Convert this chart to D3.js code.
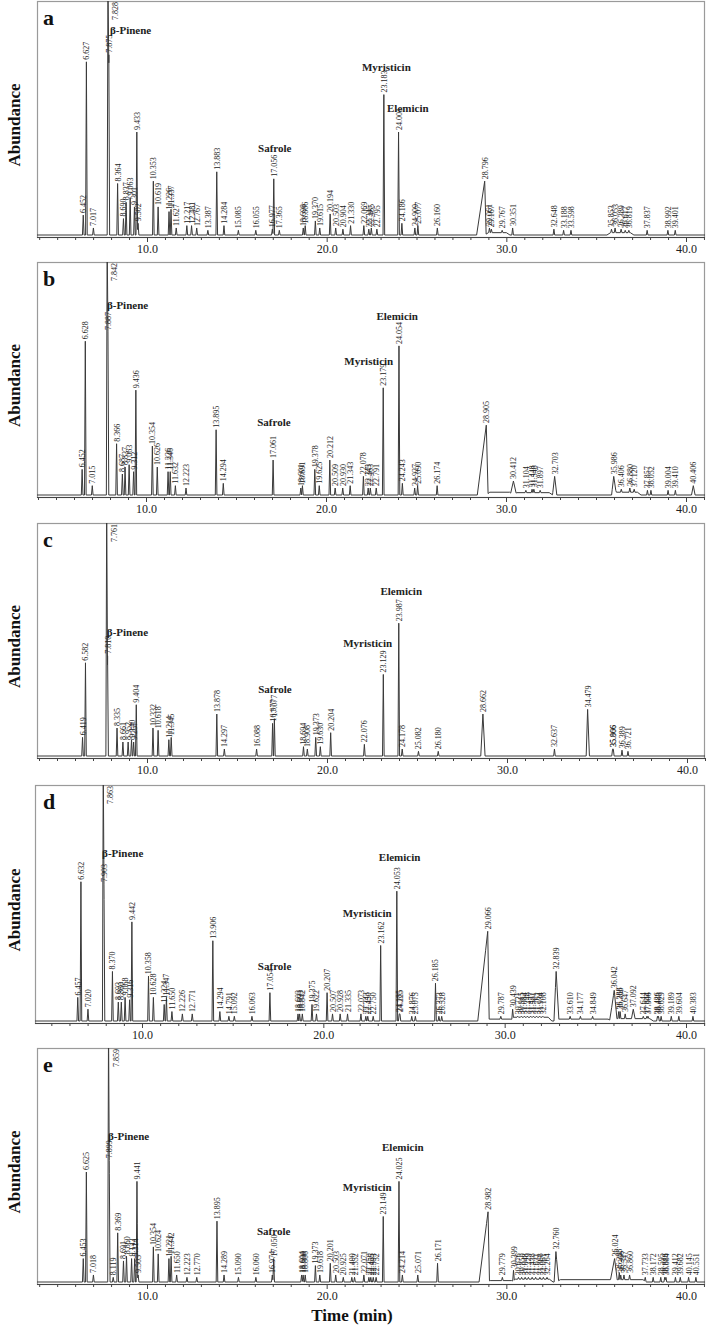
<!DOCTYPE html>
<html><head><meta charset="utf-8">
<script src="https://cdn.jsdelivr.net/npm/d3@7"></script>
<style>body{margin:0;background:#fff}svg{display:block}</style>
</head><body>
<svg id="chart" width="708" height="1326"></svg>
<script>
// ---------- data ----------
const panelKeys = ["a","b","c","d","e"];
const xTickValues = [10, 20, 30, 40];
const xAxisTitle = "Time (min)";
const yAxisTitle = "Abundance";

// peaks: [retention time (min), relative abundance (%), left width, right width]
const peaksA = [[6.452,8.5],[6.627,74],[7.017,3],[7.828,110],[7.875,77],[8.364,22],[8.690,7],[8.837,14],[9.063,16],[9.301,12],[9.433,44],[9.502,5],
 [10.353,23],[10.619,12],[11.226,10],[11.337,11],[11.627,3],[12.217,4],[12.481,4],[12.767,3],[13.387,2],[13.883,27],[14.284,4],[15.085,2],[16.055,2],
 [16.977,2.5],[17.056,24],[17.365,2],[18.698,3],[18.806,4],[19.370,6],[19.615,3],[20.194,9],[20.503,3],[20.904,2.5],[21.330,4],[22.069,4],[22.345,2.5],
 [22.485,3],[22.795,2.5],[23.183,60],[24.001,44],[24.186,5],[24.909,3],[25.077,4],[26.160,3],[28.796,23,0.45,0.08],[29.061,3],[29.167,2.5],[29.767,2],
 [30.351,3],[32.648,2.5],[33.188,2],[33.598,2],[35.853,2.5],[36.053,3],[36.389,2.5],[36.617,2],[36.819,2],[37.837,2],[38.992,2],[39.401,2]];
const peaksB = [[6.452,11],[6.628,66],[7.015,4],[7.842,110],[7.887,70],[8.366,22],[8.687,9],[8.837,12],[9.063,13],[9.312,10],[9.436,45],[10.354,21],
 [10.626,12],[11.226,10],[11.346,10],[11.632,4],[12.223,3],[13.895,28],[14.294,5],[17.061,15],[18.601,3],[18.691,4],[19.378,11],[19.625,4],[20.212,15],
 [20.509,3],[20.930,3],[21.343,4],[22.078,8],[22.343,3],[22.463,3],[22.791,3],[23.179,46],[24.054,64],[24.243,5],[24.927,3],[25.090,4],[26.174,4],
 [28.905,30,0.5,0.1],[30.412,6,0.15,0.15],[31.104,2],[31.448,2.5],[31.548,2.5],[31.897,2],[32.703,8,0.12,0.12],[35.986,8,0.12,0.15],[36.406,2.5],
 [36.880,3],[37.120,2.5],[37.857,2],[38.052,2],[39.004,2],[39.410,2],[40.406,4,0.1,0.1]];
const peaksC = [[6.419,8],[6.582,40],[7.761,110],[7.810,43],[8.335,12],[8.661,6],[8.952,6],[9.140,7],[9.257,6],[9.404,22],[10.332,12],[10.618,11],
 [11.214,7],[11.345,8],[13.878,18],[14.297,3],[16.088,3],[16.977,14],[17.077,16],[18.694,4],[18.908,3],[19.373,8],[19.630,4],[20.204,10],[22.076,5],
 [23.129,35],[23.987,57],[24.178,3],[25.082,2],[26.180,2],[28.662,18,0.12,0.12],[32.637,3],[34.479,20,0.08,0.1],[35.866,3],[35.906,3],[36.389,2.5],[36.721,2]];
const peaksD = [[6.457,10],[6.632,59],[7.020,5],[7.863,110],[7.903,58],[8.370,21],[8.693,8],[8.860,8],[9.068,10],[9.316,9],[9.442,42],[10.358,19],
 [10.628,10],[11.224,7],[11.347,10],[11.650,4],[12.226,3],[12.771,3],[13.906,34],[14.294,4],[14.791,2],[15.092,2],[16.063,2],[17.054,12],[18.603,3],
 [18.693,3],[18.842,3],[19.375,7],[19.622,3],[20.207,12],[20.507,3],[20.928,3],[21.335,3],[22.073,3],[22.343,2],[22.450,2],[22.750,2],[23.162,32],
 [24.053,55],[24.185,3],[24.225,3],[24.876,2],[25.075,2],[26.185,16],[26.373,2],[26.528,2],[29.066,38,0.55,0.08],[29.787,2],[30.439,5],[30.721,2],
 [30.915,2],[31.084,2],[31.248,2],[31.437,2],[31.581,2],[31.762,2],[31.934,2],[32.108,2],[32.839,21,0.12,0.15],[33.610,2],[34.177,2],[34.849,2],
 [36.042,13,0.25,0.15],[36.288,4],[36.366,4],[36.647,3],[37.092,5,0.1,0.1],[37.644,2],[37.844,2],[37.906,2],[38.426,2],[38.483,2],[38.629,2],[39.189,2],
 [39.604,2],[40.383,2]];
const peaksE = [[6.453,10],[6.625,47],[7.018,3],[7.859,110],[7.899,52],[8.119,2],[8.369,21],[8.691,9],[8.860,11],[9.142,10],[9.314,10],[9.441,43],
 [9.505,3],[10.354,15],[10.624,12],[11.221,10],[11.342,11],[11.650,3],[12.223,2],[12.770,2],[13.895,26],[14.289,3],[15.090,2],[16.060,2],[16.974,3],
 [17.050,10],[18.604,3],[18.690,3],[18.806,3],[19.373,7],[19.618,3],[20.201,8],[20.503,3],[20.925,2],[21.400,2],[21.552,2],[22.071,3],[22.350,2],
 [22.455,2],[22.593,2],[22.752,2],[23.149,28],[24.025,43],[24.214,3],[25.071,3],[26.171,8],[28.982,30,0.5,0.08],[29.779,2],[30.399,5],[30.676,2],
 [30.850,2],[31.048,2],[31.229,2],[31.438,2],[31.631,2],[31.868,2],[32.061,2],[32.264,2],[32.760,13,0.1,0.15],[36.024,10,0.25,0.15],[36.288,4],
 [36.366,3],[36.547,3],[36.860,3],[37.733,2],[38.172,2],[38.595,2],[38.816,2],[38.884,2],[39.412,2],[39.682,2],[40.145,2],[40.551,2]];

// unlabeled raised-baseline segments: [start time, end time, abundance]
const humpsA = [[29.0,30.0,1.0],[35.8,36.9,1.0]];
const humpsB = [[29.1,30.2,1.2],[30.6,32.4,1.0],[36.1,37.3,1.2]];
const humpsC = [];
const humpsD = [[29.15,30.3,0.8],[30.5,32.4,1.6],[33.0,35.7,0.8],[36.2,38.0,1.0]];
const humpsE = [[29.1,30.3,0.6],[30.5,32.4,1.2],[33.0,35.8,1.0],[36.2,37.6,1.0]];

// compound annotations: [name, time, abundance level]
const notesA = [["β-Pinene",7.94,86],["Safrole",16.18,35.5],["Myristicin",21.96,70],["Elemicin",23.36,52.6]];
const notesB = [["β-Pinene",7.83,80],["Safrole",16.18,29.6],["Myristicin",21.02,56],["Elemicin",22.8,75]];
const notesC = [["β-Pinene",7.77,51.5],["Safrole",16.18,27],["Myristicin",20.9,46.8],["Elemicin",22.97,69]];
const notesD = [["β-Pinene",7.8,69.5],["Safrole",16.39,21.6],["Myristicin",21.07,44],["Elemicin",23.06,67.8]];
const notesE = [["β-Pinene",7.83,60.7],["Safrole",16.12,20],["Myristicin",20.9,38.9],["Elemicin",23.08,56]];

// ---------- layout ----------
const layout = [
  {top:1,    axis:237,  left:37, right:705, x10:147, x40:686},
  {top:262,  axis:497,  left:37, right:705, x10:146, x40:686},
  {top:523,  axis:758,  left:37, right:705, x10:147, x40:687},
  {top:785,  axis:1023, left:35, right:705, x10:142, x40:686},
  {top:1048, axis:1284, left:37, right:705, x10:147, x40:686}
];
const panels = [
  {peaks:peaksA, humps:humpsA, notes:notesA},
  {peaks:peaksB, humps:humpsB, notes:notesB},
  {peaks:peaksC, humps:humpsC, notes:notesC},
  {peaks:peaksD, humps:humpsD, notes:notesD},
  {peaks:peaksE, humps:humpsE, notes:notesE}
];
const SERIF = "'Liberation Serif','Times New Roman',serif";
const DW = 0.045, RAMP = 0.2;
const svg = d3.select("#chart");
svg.append("rect").attr("width",708).attr("height",1326).attr("fill","#fff");

panels.forEach((p, i) => {
  const L = layout[i];
  const g = svg.append("g");
  const x = d3.scaleLinear().domain([10,40]).range([L.x10, L.x40]);
  const y = d3.scaleLinear().domain([0,100]).range([L.axis-2, L.top]);
  const tmin = x.invert(L.left), tmax = x.invert(L.right);

  // piecewise-linear shapes from the data
  const tris = p.peaks.map(d => ({t:d[0], h:d[1], wl:d[2]||DW, wr:d[3]||DW}));
  const flats = p.humps.map(d => ({s:d[0], e:d[1], h:d[2]}));
  let bps = [tmin, tmax];
  tris.forEach(d => bps.push(d.t - d.wl, d.t, d.t + d.wr));
  flats.forEach(d => bps.push(d.s - RAMP, d.s, d.e, d.e + RAMP));
  bps = bps.filter(t => t >= tmin && t <= tmax).sort((a,b)=>a-b);
  const val = t => {
    let m = 0;
    tris.forEach(d => {
      let v = 0;
      if (t >= d.t - d.wl && t <= d.t) v = d.h * (t - (d.t - d.wl)) / d.wl;
      else if (t > d.t && t <= d.t + d.wr) v = d.h * ((d.t + d.wr) - t) / d.wr;
      if (v > m) m = v;
    });
    flats.forEach(d => {
      let v = 0;
      if (t >= d.s && t <= d.e) v = d.h;
      else if (t >= d.s - RAMP && t < d.s) v = d.h * (t - (d.s - RAMP)) / RAMP;
      else if (t > d.e && t <= d.e + RAMP) v = d.h * ((d.e + RAMP) - t) / RAMP;
      if (v > m) m = v;
    });
    return m;
  };
  const pts = bps.map(t => [t, val(t)]);

  const clipId = "clip" + i;
  svg.append("clipPath").attr("id", clipId).append("rect")
    .attr("x", L.left).attr("y", L.top).attr("width", L.right - L.left).attr("height", L.axis - L.top);

  // frame
  g.append("rect").attr("x", L.left+0.5).attr("y", L.top+0.5)
    .attr("width", L.right - L.left - 1).attr("height", L.axis - L.top)
    .attr("fill","none").attr("stroke","#9a9a9a").attr("stroke-width",1.2);

  // trace
  g.append("path").datum(pts).attr("clip-path", `url(#${clipId})`)
    .attr("d", d3.line().x(d => x(d[0])).y(d => y(d[1])))
    .attr("fill","none").attr("stroke","#3a3a3a").attr("stroke-width",1);

  // axes
  const minor = d3.range(Math.ceil(tmin), Math.floor(tmax)+1).filter(v => v % 10 !== 0);
  const ax1 = g.append("g").attr("transform", `translate(0,${L.axis})`)
    .call(d3.axisBottom(x).tickValues(minor).tickSize(3).tickFormat(""));
  ax1.select(".domain").remove();
  ax1.selectAll("line").attr("stroke","#444");
  const ax2 = g.append("g").attr("transform", `translate(0,${L.axis})`)
    .call(d3.axisBottom(x).tickValues(xTickValues).tickSize(5).tickPadding(2).tickFormat(d3.format(".1f")));
  ax2.select(".domain").remove();
  ax2.selectAll("line").attr("stroke","#444");
  ax2.selectAll("text").attr("font-family", SERIF).attr("font-size", 12).attr("fill","#222");
  g.append("line").attr("x1", L.left).attr("x2", L.right).attr("y1", L.axis+0.5).attr("y2", L.axis+0.5)
    .attr("stroke","#444").attr("stroke-width",1);

  // peak labels
  p.peaks.forEach(d => {
    const t = d[0], h = d[1];
    const lbl = d3.format(".3f")(t);
    if (h >= 100) {
      g.append("text").attr("transform", `translate(${x(t)+10},${L.top+1}) rotate(-90)`)
        .attr("text-anchor","end").attr("font-family", SERIF).attr("font-size", 8).attr("fill","#222").text(lbl);
    } else {
      g.append("text").attr("transform", `translate(${x(t)+3},${y(h)-2}) rotate(-90)`)
        .attr("text-anchor","start").attr("font-family", SERIF).attr("font-size", 8).attr("fill","#222").text(lbl);
    }
  });

  // compound names
  p.notes.forEach(n => {
    g.append("text").attr("x", x(n[1])).attr("y", y(n[2]))
      .attr("font-family", SERIF).attr("font-size", 11).attr("font-weight","bold").attr("fill","#222").text(n[0]);
  });

  // panel letter
  g.append("text").attr("x", 43).attr("y", L.top + 24)
    .attr("font-family", SERIF).attr("font-size", 22).attr("font-weight","bold").attr("fill","#111").text(panelKeys[i]);

  // y title
  g.append("text").attr("transform", `translate(20,${(L.top + L.axis)/2 + 6}) rotate(-90)`)
    .attr("text-anchor","middle").attr("font-family", SERIF).attr("font-size", 17).attr("font-weight","bold").attr("fill","#111")
    .text(yAxisTitle);
});

svg.append("text").attr("x", 352).attr("y", 1321).attr("text-anchor","middle")
  .attr("font-family", SERIF).attr("font-size", 17).attr("font-weight","bold").attr("fill","#111").text(xAxisTitle);
</script>
</body></html>
